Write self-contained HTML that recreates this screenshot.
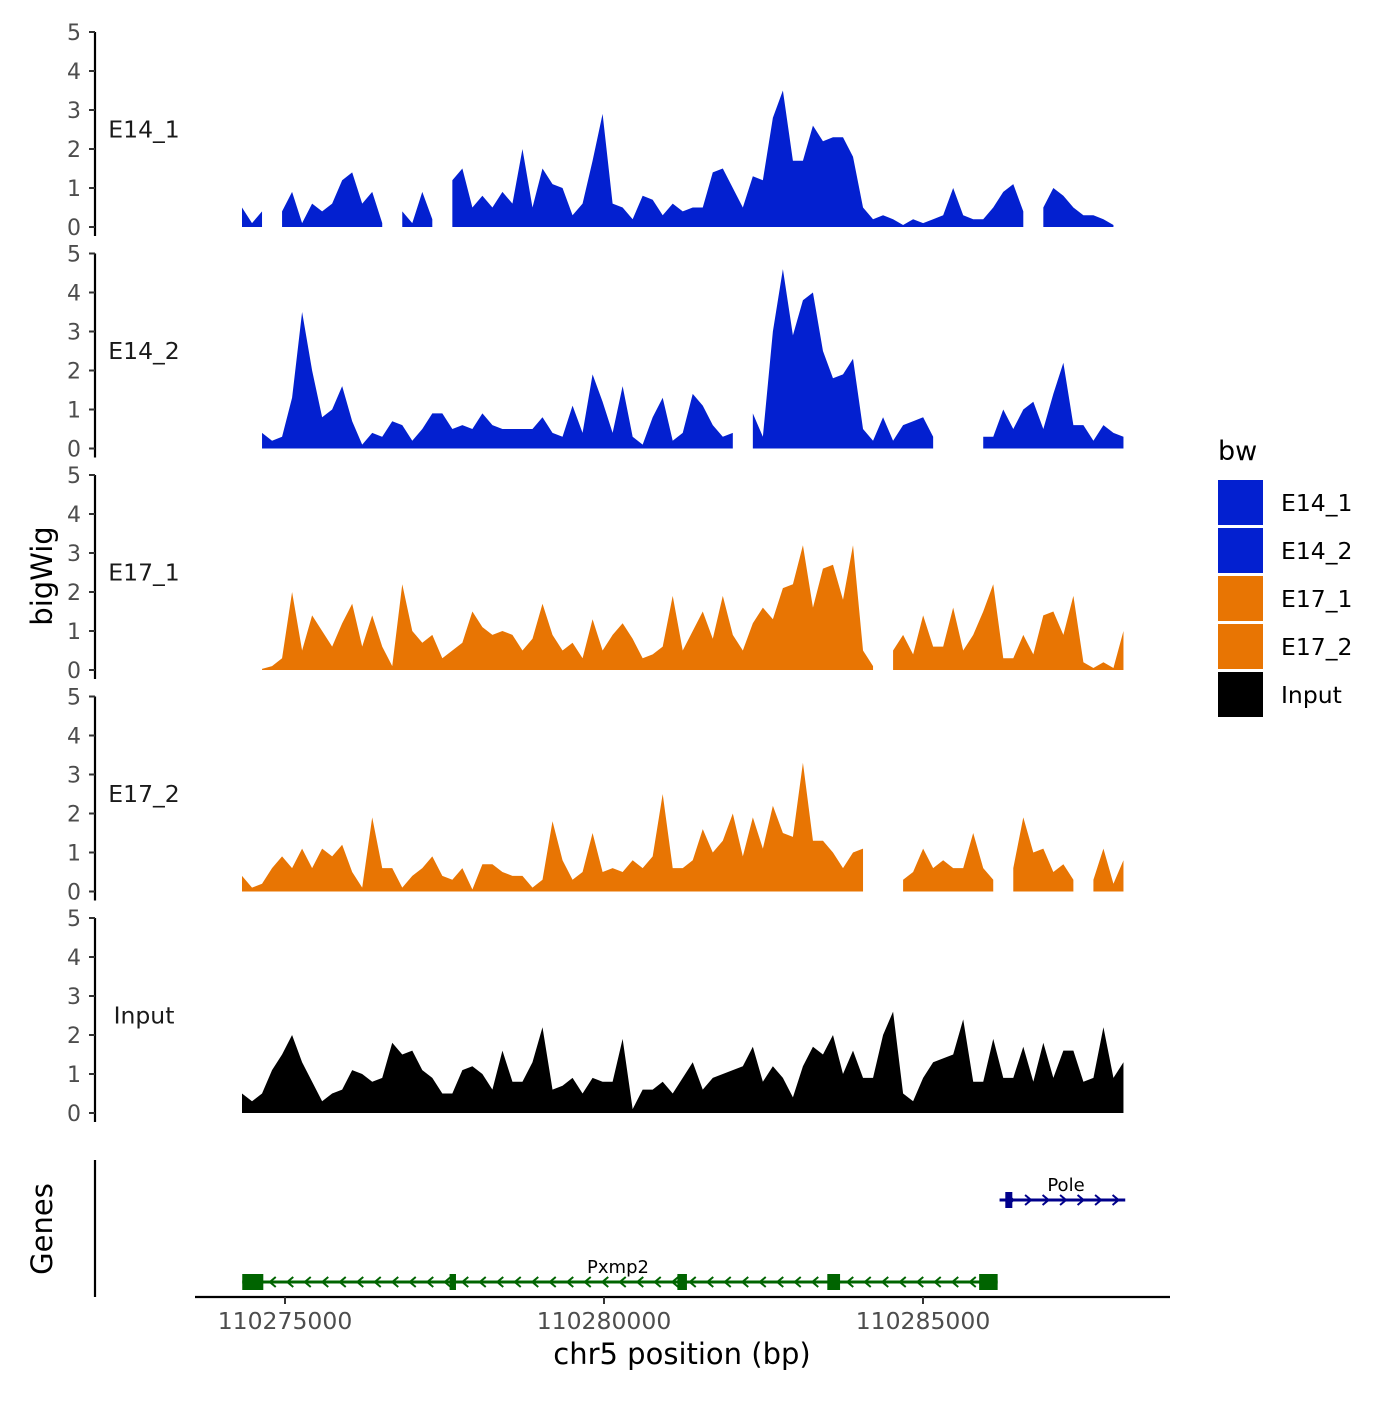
<!DOCTYPE html>
<html><head><meta charset="utf-8"><style>
body{margin:0;background:#fff;font-family:"Liberation Sans","DejaVu Sans",sans-serif}
svg text{font-family:"DejaVu Sans","Liberation Sans",sans-serif}
</style></head><body>
<svg id="chart" width="1400" height="1400" viewBox="0 0 1400 1400" xmlns="http://www.w3.org/2000/svg">
<g id="tracks"></g>
<g id="genes"></g>
<g id="xaxis"></g>
<text x="52" y="576" transform="rotate(-90 52 576)" text-anchor="middle" font-size="29">bigWig</text>
<text x="52" y="1229" transform="rotate(-90 52 1229)" text-anchor="middle" font-size="29">Genes</text>
<text x="682" y="1364" text-anchor="middle" font-size="29">chr5 position (bp)</text>
<g id="legend">
<text x="1218" y="460" font-size="27">bw</text>
</g>
</svg>
<script>
const trackNames = ["E14_1","E14_2","E17_1","E17_2","Input"];
const trackColors = ["#0320D0","#0320D0","#E87503","#E87503","#000000"];
const binStart = 110274326;
const binStep = 157;
const e14_1 = [0.5,0.1,0.4,null,0.4,0.9,0.1,0.6,0.4,0.6,1.2,1.4,0.6,0.9,0.1,null,0.4,0.1,0.9,0.2,null,1.2,1.5,0.5,0.8,0.5,0.9,0.6,2.0,0.5,1.5,1.1,1.0,0.3,0.6,1.7,2.9,0.6,0.5,0.2,0.8,0.7,0.3,0.6,0.4,0.5,0.5,1.4,1.5,1.0,0.5,1.3,1.2,2.8,3.5,1.7,1.7,2.6,2.2,2.3,2.3,1.8,0.5,0.2,0.3,0.2,0.05,0.2,0.1,0.2,0.3,1.0,0.3,0.2,0.2,0.5,0.9,1.1,0.4,null,0.5,1.0,0.8,0.5,0.3,0.3,0.2,0.05,null];
const e14_2 = [1.9,null,0.4,0.2,0.3,1.3,3.5,2.0,0.8,1.0,1.6,0.7,0.1,0.4,0.3,0.7,0.6,0.2,0.5,0.9,0.9,0.5,0.6,0.5,0.9,0.6,0.5,0.5,0.5,0.5,0.8,0.4,0.3,1.1,0.4,1.9,1.2,0.4,1.6,0.3,0.1,0.8,1.3,0.2,0.4,1.4,1.1,0.6,0.3,0.4,null,0.9,0.3,3.0,4.6,2.9,3.8,4.0,2.5,1.8,1.9,2.3,0.5,0.2,0.8,0.2,0.6,0.7,0.8,0.3,null,null,null,null,0.3,0.3,1.0,0.5,1.0,1.2,0.5,1.4,2.2,0.6,0.6,0.2,0.6,0.4,0.3];
const e17_1 = [null,null,0.03,0.1,0.3,2.0,0.5,1.4,1.0,0.6,1.2,1.7,0.6,1.4,0.6,0.1,2.2,1.0,0.7,0.9,0.3,0.5,0.7,1.5,1.1,0.9,1.0,0.9,0.5,0.8,1.7,0.9,0.5,0.7,0.3,1.3,0.5,0.9,1.2,0.8,0.3,0.4,0.6,1.9,0.5,1.0,1.5,0.8,1.9,0.9,0.5,1.2,1.6,1.3,2.1,2.2,3.2,1.6,2.6,2.7,1.8,3.2,0.5,0.1,null,0.5,0.9,0.4,1.4,0.6,0.6,1.6,0.5,0.9,1.5,2.2,0.3,0.3,0.9,0.4,1.4,1.5,0.9,1.9,0.2,0.05,0.2,0.05,1.0];
const e17_2 = [0.4,0.1,0.2,0.6,0.9,0.6,1.1,0.6,1.1,0.9,1.2,0.5,0.1,1.9,0.6,0.6,0.1,0.4,0.6,0.9,0.4,0.3,0.6,0.05,0.7,0.7,0.5,0.4,0.4,0.1,0.3,1.8,0.8,0.3,0.5,1.5,0.5,0.6,0.5,0.8,0.6,0.9,2.5,0.6,0.6,0.8,1.6,1.0,1.3,2.0,0.9,1.9,1.1,2.2,1.5,1.4,3.3,1.3,1.3,1.0,0.6,1.0,1.1,null,null,null,0.3,0.5,1.1,0.6,0.8,0.6,0.6,1.5,0.6,0.3,null,0.6,1.9,1.0,1.1,0.5,0.7,0.3,null,0.3,1.1,0.2,0.8];
const input = [0.5,0.3,0.5,1.1,1.5,2.0,1.3,0.8,0.3,0.5,0.6,1.1,1.0,0.8,0.9,1.8,1.5,1.6,1.1,0.9,0.5,0.5,1.1,1.2,1.0,0.6,1.6,0.8,0.8,1.3,2.2,0.6,0.7,0.9,0.5,0.9,0.8,0.8,1.9,0.1,0.6,0.6,0.8,0.5,0.9,1.3,0.6,0.9,1.0,1.1,1.2,1.7,0.8,1.2,0.9,0.4,1.2,1.7,1.5,2.0,1.0,1.6,0.9,0.9,2.0,2.6,0.5,0.3,0.9,1.3,1.4,1.5,2.4,0.8,0.8,1.9,0.9,0.9,1.7,0.8,1.8,0.9,1.6,1.6,0.8,0.9,2.2,0.9,1.3];
const trackValues = [e14_1,e14_2,e17_1,e17_2,input];
const yTicks = [0,1,2,3,4,5];
const xTicks = [110275000,110280000,110285000];
const xTickLabels = ["110275000","110280000","110285000"];
const pxmp2Exons = [[110274330,110274660],[110277580,110277680],[110281150,110281300],[110283500,110283700],[110285880,110286170]];
const pxmp2Span = [110274330,110286170];
const poleSpan = [110286200,110288170];
const poleExons = [[110286290,110286400]];

const NS="http://www.w3.org/2000/svg";
function mk(tag,attrs,parent){const e=document.createElementNS(NS,tag);for(const k in attrs)e.setAttribute(k,attrs[k]);parent.appendChild(e);return e;}
const xs = bp => 285 + (bp-110275000)*0.0638;
const panelZero = [227,448.5,670,891.5,1113];
const unit = 39;
const tracks=document.getElementById('tracks');
trackValues.forEach((vals,t)=>{
  const z=panelZero[t];
  const ys=v=>z-v*unit;
  const g=mk('g',{},tracks);
  
  
  const ax=mk('line',{x1:95,x2:95,y1:ys(5),y2:z+9,stroke:'#000','stroke-width':2.2},g);
  
  
  yTicks.forEach(v=>{
    mk('line',{x1:89,x2:95,y1:ys(v),y2:ys(v),stroke:'#333','stroke-width':2},g);
    const tx=mk('text',{x:81,y:ys(v)+8,'text-anchor':'end','font-size':22,fill:'#4d4d4d'},g);
    tx.textContent=v;
    
    
  });
  const lb=mk('text',{x:144,y:ys(2.5)+8,'text-anchor':'middle','font-size':23.5,fill:'#1a1a1a'},g);
  lb.textContent=trackNames[t];
  
  
  let run=[];
  const flush=()=>{
    if(run.length){
      const x0=xs(binStart+run[0][0]*binStep), x1=xs(binStart+run[run.length-1][0]*binStep);
      let d='M'+x0+','+z;
      run.forEach(([i,v])=>{d+=' L'+xs(binStart+i*binStep)+','+ys(v);});
      d+=' L'+x1+','+z+' Z';
      const p=mk('path',{d:d,fill:trackColors[t]},g);
      
      
    }
    run=[];
  };
  vals.forEach((v,i)=>{ if(v===null) flush(); else run.push([i,v]); });
  flush();
});
const gg=document.getElementById('genes');
mk('line',{x1:95,x2:95,y1:1160,y2:1297,stroke:'#000','stroke-width':2.2},gg);
function gene(span,exons,y,color,name,dir,labelX){
  const g=mk('g',{},gg);
  
  
  mk('line',{x1:xs(span[0]),x2:xs(span[1]),y1:y,y2:y,stroke:color,'stroke-width':3},g);
  for(let x=xs(span[0])+12;x<xs(span[1])-4;x+=17.5){
    const d=dir<0?`M${x+4},${y-5} L${x-2},${y} L${x+4},${y+5}`:`M${x-4},${y-5} L${x+2},${y} L${x-4},${y+5}`;
    mk('path',{d:d,stroke:color,'stroke-width':2,fill:'none'},g);
  }
  exons.forEach(e=>{
    const r=mk('rect',{x:xs(e[0]),y:y-8,width:Math.max(5,xs(e[1])-xs(e[0])),height:16,fill:color},g);
    
    
  });
  const tx=mk('text',{x:labelX,y:y-9,'text-anchor':'middle','font-size':18,fill:'#000'},g);
  tx.textContent=name;
}
gene(pxmp2Span,pxmp2Exons,1282,'#006400','Pxmp2',-1,618);
gene(poleSpan,poleExons,1200,'#00008B','Pole',1,1066);
const xa=document.getElementById('xaxis');
mk('line',{x1:195,x2:1170,y1:1297,y2:1297,stroke:'#000','stroke-width':2.2},xa);
xTicks.forEach((v,i)=>{
  mk('line',{x1:xs(v),x2:xs(v),y1:1297,y2:1304,stroke:'#333','stroke-width':2},xa);
  const tx=mk('text',{x:xs(v),y:1329,'text-anchor':'middle','font-size':23.5,fill:'#4d4d4d'},xa);
  tx.textContent=xTickLabels[i];
  
  
});
const lg=document.getElementById('legend');
const legendLabels=["E14_1","E14_2","E17_1","E17_2","Input"];
const legendColors=["#0320D0","#0320D0","#E87503","#E87503","#000000"];
legendLabels.forEach((l,i)=>{
  const y=480+i*48;
  const r=mk('rect',{x:1218,y:y,width:45,height:45,fill:legendColors[i]},lg);
  
  
  const tx=mk('text',{x:1281,y:y+31,'font-size':23.5,fill:'#000'},lg);
  tx.textContent=l;
  
  
});
</script>
</body></html>
